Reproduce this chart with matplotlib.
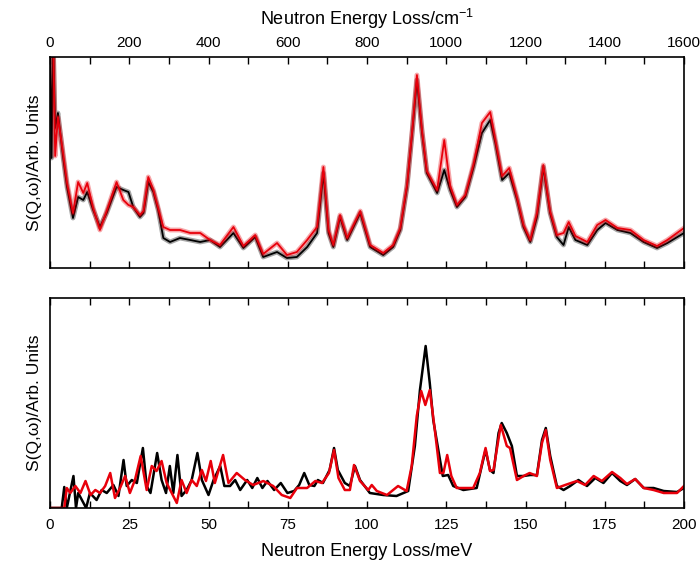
import numpy as np
import matplotlib.pyplot as plt
from matplotlib.ticker import MultipleLocator

plt.rcParams['font.family'] = ['Liberation Sans', 'DejaVu Sans']
plt.rcParams['mathtext.fontset'] = 'custom'
plt.rcParams['mathtext.rm'] = 'Liberation Sans'

#%% measured spectra (energy loss in cm-1, intensity arb.)

wn_exp = [0, 4, 8, 13, 20, 33, 43, 58, 71, 84, 94, 109, 126, 143, 168, 185, 198,
          210, 227, 236, 248, 261, 273, 286, 303, 328, 354, 379, 404, 429, 463,
          488, 518, 538, 573, 598, 623, 649, 674, 690, 703, 715, 732, 750, 783,
          808, 841, 866, 884, 901, 914, 926, 939, 951, 977, 995, 1010, 1027,
          1048, 1069, 1090, 1111, 1124, 1141, 1159, 1179, 1195, 1212, 1229,
          1245, 1262, 1279, 1296, 1309, 1326, 1356, 1381, 1402, 1432, 1465,
          1498, 1532, 1558, 1600]

s_black = [230, 110, 230, 140, 155, 111, 81, 50, 71, 68, 76, 58, 41, 55, 81, 78, 76,
           61, 51, 55, 86, 76, 58, 30, 26, 30, 28, 26, 28, 21, 35,
           20, 31, 11, 16, 10, 11, 21, 35, 95, 35, 21, 51, 28, 55,
           21, 13, 21, 38, 81, 135, 188, 135, 95, 75, 98, 78, 61,
           71, 101, 135, 148, 125, 88, 95, 68, 41, 26, 51,
           101, 55, 31, 23, 41, 28, 23, 38, 45, 38, 35,
           26, 20, 25, 35]

s_red = [230, 230, 230, 112, 151, 115, 85, 55, 86, 75, 85, 60, 38, 57, 86, 68, 63,
         61, 53, 57, 91, 78, 60, 41, 38, 38, 35, 35, 28, 23, 41,
         22, 33, 14, 25, 13, 16, 28, 41, 101, 38, 23, 53, 30, 57,
         23, 15, 23, 40, 83, 137, 193, 137, 97, 78, 128, 82, 63,
         73, 104, 145, 156, 128, 92, 100, 70, 43, 28, 55,
         103, 57, 33, 35, 46, 32, 26, 43, 48, 40, 38,
         28, 22, 28, 40]

#%% calculated spectra (energy loss in meV)

e_black = [0, 3.7, 4.5, 5.3, 7.4, 8.2, 8.9, 11.4, 12.6, 14.7, 16.3, 17.9, 20, 21.6,
           23.2, 24.2, 25.8, 27.4, 29.3, 30.5, 31.7, 33.8, 35.2, 36.6, 37.8, 38.9,
           40.2, 41.5, 43.1, 44.7, 46.5, 47.9, 50, 51.6, 53.7, 55, 56.8, 58.4, 60,
           62.2, 63.8, 65.4, 67, 68.6, 70.7, 72.8, 74.9, 77, 78.6, 80.2, 81.8, 83.4,
           84.5, 86.1, 88.2, 89.6, 90.8, 93, 94.6, 96.2, 97.8, 100.9, 105.1, 109.3,
           113, 115.1, 116.7, 118.5, 119.8, 120.9, 122.5, 123.9, 125.6, 127.2, 130.4,
           134.6, 136.2, 137.4, 138.8, 139.9, 141.5, 142.5, 144.1, 145.7, 147.3,
           149.4, 151.5, 153.6, 155.2, 156.4, 157.8, 159.9, 162, 164.1, 166.7,
           169.4, 172, 174.6, 177.3, 179.9, 182, 184.6, 187.3, 190.4, 193.6, 197.8, 200]

i_black = [0, 0, 21, 0, 32, 0, 15, 0, 15, 8, 18, 15, 23, 12,
           48, 22, 28, 25, 60, 22, 15, 55, 28, 15, 42, 15,
           53, 12, 18, 28, 55, 28, 13, 28, 42, 22, 22, 28, 18,
           28, 20, 30, 20, 27, 18, 25, 15, 17, 23, 35, 23, 22,
           28, 25, 38, 60, 38, 25, 22, 42, 28, 15, 13, 12,
           17, 62, 118, 162, 125, 88, 58, 32, 33, 22, 18,
           20, 42, 58, 38, 35, 75, 85, 75, 62, 32,
           32, 33, 33, 68, 80, 52, 22, 18, 22, 28,
           22, 30, 25, 35, 27, 23, 29, 20, 20, 17, 16, 20]

e_red = [0, 4.5, 5.3, 6.4, 8, 9.6, 11.2, 12.8, 14.3, 15.8, 17.4, 19, 20.5, 22.1,
         23.7, 25.2, 26.8, 28.6, 30.5, 32.1, 33.6, 35.2, 36.8, 38.4, 40, 41.5,
         43.1, 44.7, 46.3, 47.9, 49.2, 50.7, 52, 54.6, 56.3, 58.9, 61.5, 64.1,
         67.3, 70.4, 73.1, 75.8, 77.9, 81.1, 83.7, 85.8, 88, 89.6, 91, 93, 94.6,
         95.9, 97.8, 100.4, 101.5, 103.1, 106.3, 109.8, 112.5, 114.1, 115.7, 117.1,
         118.4, 119.8, 121.4, 123, 124.1, 125.3, 126.6, 128.3, 133.5, 135.6, 137.4,
         138.8, 139.9, 142.2, 144.1, 145.1, 147.3, 149.4, 151.3, 153.6, 155.2,
         156.4, 157.8, 159.9, 162.5, 166.2, 168.8, 171.5, 174.1, 177.3, 179.9,
         182, 184.6, 187.3, 190.4, 193.6, 197.8, 200]

i_red = [0, 0, 20, 15, 22, 15, 27, 13, 18, 15, 22, 35, 10, 20,
         32, 15, 28, 52, 18, 42, 37, 47, 25, 15, 5, 28,
         15, 28, 22, 38, 27, 47, 25, 53, 25, 35, 28, 23,
         27, 22, 13, 10, 20, 20, 27, 25, 35, 58, 30, 18, 18,
         43, 27, 18, 23, 17, 13, 22, 17, 42, 92, 117,
         103, 118, 78, 35, 35, 53, 32, 20, 20, 35, 60,
         37, 38, 83, 62, 60, 28, 32, 35, 32, 65,
         78, 48, 20, 23, 27, 23, 32, 27, 36, 30,
         24, 29, 20, 18, 15, 15, 22]

#%%

fig = plt.figure(figsize=(7.0, 5.71), dpi=100)
ax1 = fig.add_axes([50/700, 303/571, 634/700, 211/571])
ax2 = fig.add_axes([50/700, 63/571, 634/700, 210/571])

# experiment: fuzzy band under a solid line
for y, c in [(s_black, 'black'), (s_red, '#e8000b')]:
    ax1.plot(wn_exp, y, color=c, linewidth=3.5, alpha=0.35, solid_joinstyle='round')
    ax1.plot(wn_exp, y, color=c, linewidth=1.3)
ax1.set_xlim(0, 1600)
ax1.set_ylim(0, 211)
ax1.xaxis.set_major_locator(MultipleLocator(200))
ax1.xaxis.set_minor_locator(MultipleLocator(100))
ax1.tick_params(axis='x', which='both', direction='in', top=True, bottom=True,
                labeltop=True, labelbottom=False, length=5, width=1, labelsize=11, pad=5)
ax1.xaxis.set_label_position('top')
ax1.set_xlabel('Neutron Energy Loss/cm$^{-1}$', fontsize=13, labelpad=8)
ax1.set_yticks([])
ax1.set_ylabel('S(Q,\u03c9)/Arb. Units', fontsize=12.5, labelpad=6)

ax2.plot(e_black, i_black, color='black', linewidth=1.8)
ax2.plot(e_red, i_red, color='#e8000b', linewidth=1.8)
ax2.set_xlim(0, 200)
ax2.set_ylim(0, 210)
ax2.xaxis.set_major_locator(MultipleLocator(25))
ax2.xaxis.set_minor_locator(MultipleLocator(12.5))
ax2.tick_params(axis='x', which='both', direction='in', top=True, bottom=True,
                length=5, width=1, labelsize=11, pad=7)
ax2.set_xlabel('Neutron Energy Loss/meV', fontsize=13, labelpad=8)
ax2.set_yticks([])
ax2.set_ylabel('S(Q,\u03c9)/Arb. Units', fontsize=12.5, labelpad=6)

for ax in (ax1, ax2):
    for sp in ax.spines.values():
        sp.set_linewidth(1.2)

plt.savefig('out.png', dpi=100)
